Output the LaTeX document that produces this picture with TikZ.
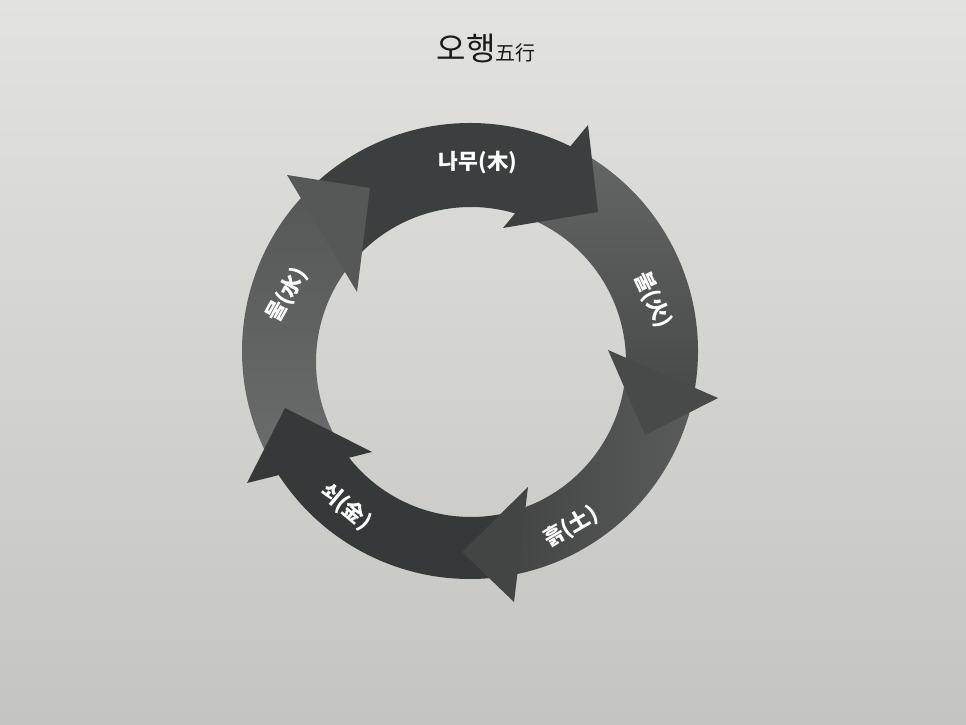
\documentclass[tikz,border=0pt]{standalone}
\usepackage{fontspec}
\newfontfamily\kr{Noto Sans CJK KR}
\definecolor{bgtop}{HTML}{E2E2DE}
\definecolor{bgbot}{HTML}{C4C4C0}
\definecolor{aOne}{HTML}{3C3F3F}
\definecolor{aTwoL}{HTML}{646666}
\definecolor{aTwoD}{HTML}{484A4A}
\definecolor{aThreeL}{HTML}{5A5C5C}
\definecolor{aThreeD}{HTML}{434545}
\definecolor{aFour}{HTML}{363939}
\definecolor{aFiveL}{HTML}{6A6C6C}
\definecolor{aFiveD}{HTML}{565858}
\definecolor{titlecol}{HTML}{1A1A1A}
\begin{document}
\begin{tikzpicture}[x=1pt,y=1pt,
  lbl/.style={text=white, font=\kr\bfseries\fontsize{21.5}{21.5}\selectfont, inner sep=0pt}]
\useasboundingbox (0,0) rectangle (966,725);
\shade[top color=bgtop, bottom color=bgbot] (0,0) rectangle (966,725);
\coordinate (Co) at (470,374);
\coordinate (Ci) at (471,363);
% bands
\fill[aOne] ([shift={(136:228)}]Co) arc[start angle=136,end angle=62,radius=228]
  -- ([shift={(70:155)}]Ci) arc[start angle=70,end angle=138,radius=155] -- cycle;
\shade[top color=aTwoL, bottom color=aTwoD] ([shift={(60:228)}]Co) arc[start angle=60,end angle=-11,radius=228]
  -- ([shift={(-0.5:155)}]Ci) arc[start angle=-0.5,end angle=67,radius=155] -- cycle;
\shade[right color=aThreeL, left color=aThreeD] ([shift={(-13:228)}]Co) arc[start angle=-13,end angle=-80,radius=228]
  -- ([shift={(-71:155)}]Ci) arc[start angle=-71,end angle=-4,radius=155] -- cycle;
\fill[aFour] ([shift={(-82:228)}]Co) arc[start angle=-82,end angle=-149,radius=228]
  -- ([shift={(-144:155)}]Ci) arc[start angle=-144,end angle=-74,radius=155] -- cycle;
\shade[bottom color=aFiveL, top color=aFiveD] ([shift={(208:228)}]Co) arc[start angle=208,end angle=135.5,radius=228]
  -- ([shift={(142:155)}]Ci) arc[start angle=142,end angle=212,radius=155] -- cycle;
% heads
\fill[aOne] (588,600) -- (598,513) -- (503,497) -- cycle;
\fill[aTwoD] (608,375) -- (718,327) -- (645,290) -- cycle;
\fill[aThreeD] (528,238) -- (514,123) -- (462,173) -- cycle;
\fill[aFour] (285,317) -- (372,273) -- (247,242) -- cycle;
\fill[aFiveD] (370,537) -- (287,550) -- (357,433) -- cycle;
% labels
\node[lbl] (wood) at (478,562) {나무(木)};
\node[lbl, rotate=-65] (fire) at (653,425) {불(火)};
\node[lbl, rotate=30] (earth) at (571,198) {흙(土)};
\node[lbl, rotate=-40] (metal) at (346,218) {쇠(金)};
\node[lbl, rotate=61] (water) at (287,430) {물(水)};
\node[text=titlecol, inner sep=0pt] (title) at (486,677)
  {\kr\fontsize{32}{32}\selectfont 오행\fontsize{20}{20}\selectfont 五行};
\end{tikzpicture}
\end{document}
